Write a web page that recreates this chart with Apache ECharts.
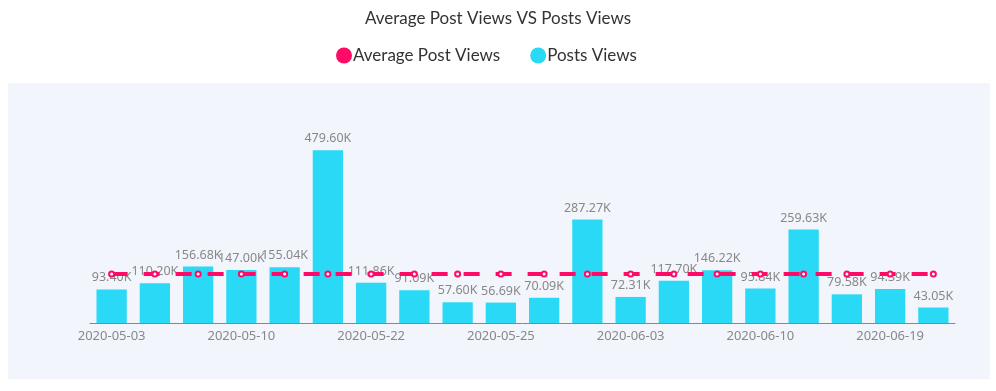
<!DOCTYPE html>
<html>
<head>
<meta charset="utf-8">
<script src="https://cdn.jsdelivr.net/npm/echarts@6/dist/echarts.min.js"></script>
<style>html,body{margin:0;padding:0;background:#fff;}#c{width:996px;height:391px;}</style>
</head>
<body>
<div id="c"></div>
<script>
var categories = ['2020-05-03','2020-05-05','2020-05-08','2020-05-10','2020-05-13','2020-05-17','2020-05-22','2020-05-23','2020-05-24','2020-05-25','2020-05-28','2020-05-31','2020-06-03','2020-06-05','2020-06-08','2020-06-10','2020-06-13','2020-06-16','2020-06-19','2020-06-21'];
var postsViews = [93400,110200,156680,147000,155040,479600,111860,91090,57600,56690,70090,287270,72310,117700,146220,95840,259630,79580,94390,43050];
var averagePostViews = [136260,136260,136260,136260,136260,136260,136260,136260,136260,136260,136260,136260,136260,136260,136260,136260,136260,136260,136260,136260];

var chart = echarts.init(document.getElementById('c'));
chart.setOption({
  animation: false,
  graphic: [{
    type: 'rect', z: -10, silent: true,
    shape: { x: 8, y: 83, width: 982, height: 296 },
    style: { fill: '#f2f5fc' }
  }],
  title: {
    text: 'Average Post Views VS Posts Views',
    left: 'center', top: 5,
    textStyle: { fontFamily: 'Lato', fontSize: 17, fontWeight: 'normal', color: '#333' }
  },
  legend: {
    top: 42, left: 331,
    itemGap: 30, itemWidth: 16, itemHeight: 16,
    icon: 'circle',
    textStyle: { fontFamily: 'Lato', fontSize: 17, color: '#333', padding: [0, 0, 0, -4] },
    data: ['Average Post Views', 'Posts Views']
  },
  grid: { left: 90, right: 41, top: 143, bottom: 68 },
  xAxis: {
    type: 'category',
    data: categories,
    axisLine: { lineStyle: { color: '#888' } },
    axisTick: { alignWithLabel: true, interval: 2, lineStyle: { color: '#888' } },
    axisLabel: { interval: 2, color: '#888', fontFamily: 'Noto Sans', fontSize: 13, margin: 7 }
  },
  yAxis: { type: 'value', show: false, splitLine: { show: false } },
  series: [{
    name: 'Posts Views',
    type: 'bar',
    data: postsViews,
    barCategoryGap: '30%',
    itemStyle: { color: '#2ad9f5' },
    label: {
      show: true, position: 'top', color: '#888', fontFamily: 'Noto Sans', fontSize: 12.5,
      formatter: function (p) { return (p.value / 1000).toFixed(2) + 'K'; }
    }
  }, {
    name: 'Average Post Views',
    type: 'line',
    z: 5,
    data: averagePostViews,
    symbol: 'emptyCircle',
    symbolSize: 5,
    lineStyle: { color: '#ff0a66', width: 4, type: [16, 16] },
    itemStyle: { color: '#ff0a66', borderWidth: 1.5 }
  }]
});
</script>
</body>
</html>
